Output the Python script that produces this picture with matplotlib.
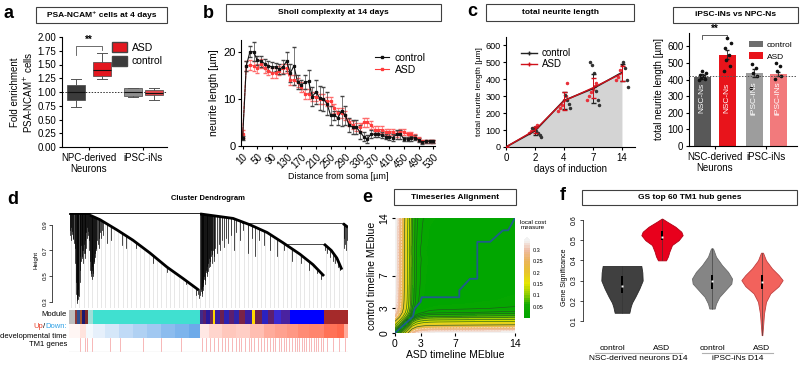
import numpy as np
import matplotlib
matplotlib.use("Agg")
import matplotlib.pyplot as plt
from matplotlib.patches import Rectangle, Patch
from matplotlib.lines import Line2D
from matplotlib.colors import LinearSegmentedColormap

plt.rcParams["font.family"] = ["Liberation Sans", "DejaVu Sans"]
plt.rcParams["axes.linewidth"] = 0.8
plt.rcParams["xtick.major.width"] = 0.8
plt.rcParams["ytick.major.width"] = 0.8
plt.rcParams["xtick.major.size"] = 2.5
plt.rcParams["ytick.major.size"] = 2.5
plt.rcParams["xtick.major.pad"] = 1.5
plt.rcParams["ytick.major.pad"] = 1.5

# ---------------- data ----------------
# a: PSA-NCAM+ fold enrichment (box statistics)
a_groups = ["NPC-derived\nNeurons", "iPSC-iNs"]
a_whislo = [0.73, 1.24, 0.91, 0.85]
a_q1 = [0.86, 1.29, 0.93, 0.94]
a_med = [1.00, 1.40, 1.00, 0.99]
a_q3 = [1.13, 1.55, 1.07, 1.04]
a_whishi = [1.23, 1.71, 1.08, 1.08]
a_colors = ["#3b3b3b", "#e3171f", "#8e8e8e", "#e2474b"]

# b: Sholl analysis
sholl_dist = list(range(10, 531, 10))
sholl_ctrl = [1.7, 17.0, 20.0, 20.0, 18.2, 18.0, 17.5, 17.0, 16.8, 16.8,
              16.3, 16.8, 18.0, 15.5, 17.0, 13.5, 13.0, 13.5, 13.7, 10.5,
              11.5, 10.2, 10.0, 9.0, 6.5, 6.5, 6.0, 7.5, 6.5, 4.5,
              4.0, 4.0, 3.0, 2.0, 1.5, 2.5, 2.5, 2.5, 2.3, 2.0,
              2.0, 1.8, 2.5, 2.5, 1.5, 1.5, 1.6, 1.8, 1.3, 0.8,
              1.0, 1.0, 1.0]
sholl_ctrl_err = [0.5, 1.0, 1.2, 2.0, 1.0, 1.2, 1.0, 1.0, 1.0, 0.8,
                  1.0, 1.5, 2.0, 2.0, 4.0, 1.5, 1.0, 1.5, 2.5, 2.0,
                  2.5, 2.5, 2.5, 2.5, 2.0, 1.0, 1.5, 3.2, 2.0, 1.5,
                  1.5, 1.5, 1.5, 1.0, 0.8, 0.8, 0.6, 0.6, 0.6, 0.6,
                  0.8, 0.8, 1.0, 1.0, 0.5, 0.5, 0.5, 0.5, 0.4, 0.3,
                  0.3, 0.3, 0.3]
sholl_asd = [2.5, 17.0, 17.2, 17.0, 16.5, 17.5, 16.5, 16.0, 15.5, 15.5,
             16.0, 16.5, 16.5, 14.0, 14.0, 13.5, 12.5, 11.0, 11.0, 10.5,
             10.5, 10.0, 10.0, 9.5, 9.5, 8.0, 7.0, 7.0, 6.5, 5.0,
             4.5, 4.0, 4.0, 5.0, 5.0, 4.5, 3.5, 3.5, 3.5, 3.0,
             3.0, 3.0, 2.5, 3.0, 3.0, 2.5, 2.5, 2.0, 1.5, 1.0,
             1.0, 1.0, 1.0]
sholl_asd_err = [0.8, 1.0, 1.0, 1.0, 1.0, 1.0, 1.0, 1.0, 1.0, 1.0,
                 1.0, 1.0, 1.0, 1.0, 1.0, 1.0, 1.0, 1.0, 1.0, 1.0,
                 1.0, 1.0, 1.0, 1.0, 1.0, 1.0, 1.0, 1.0, 1.0, 0.8,
                 0.8, 0.8, 0.8, 0.9, 0.9, 0.8, 0.7, 0.7, 0.7, 0.6,
                 0.6, 0.6, 0.6, 0.6, 0.6, 0.5, 0.5, 0.5, 0.4, 0.3,
                 0.3, 0.3, 0.3]

# c (left): total neurite length over time
c_days = ["0", "2", "4", "7", "14"]
c_ctrl_mean = [0, 95, 275, 345, 440]
c_ctrl_sd = [0, 25, 50, 85, 50]
c_asd_mean = [0, 100, 272, 350, 435]
c_asd_sd = [0, 20, 55, 60, 45]
c_ctrl_pts = [[], [60, 70, 85, 95, 110, 115], [230, 255, 280, 305],
              [250, 280, 330, 435, 485, 505], [355, 395, 465, 505]]
c_asd_pts = [[], [85, 95, 105, 120, 128], [215, 230, 250, 275, 300, 378],
             [280, 300, 325, 345, 360, 380], [395, 415, 455, 485]]

# c (right): iPSC-iNs vs NPC-Ns
cr_groups = ["NSC-derived\nNeurons", "iPSC-iNs"]
cr_inbar = ["NSC-Ns", "NSC-Ns", "iPSC-iNs", "iPSC-iNs"]
cr_mean = [418, 550, 440, 433]
cr_err = [14, 28, 25, 14]
cr_pts = [[400, 405, 412, 420, 430, 440, 450],
          [450, 480, 520, 550, 590, 620, 650],
          [352, 420, 441, 471, 491],
          [401, 421, 451, 481, 500]]
cr_colors = ["#585858", "#e8141b", "#9d9d9d", "#f27a7c"]

# d: WGCNA cluster dendrogram (leaf units 0..1000)
d_c1_u = [75, 111, 172, 229, 290, 351, 409, 465]
d_c1_h = [0.975, 0.94, 0.86, 0.78, 0.68, 0.57, 0.48, 0.39]
d_c2_u = [470, 588, 649, 710, 767, 828, 874, 914]
d_c2_h = [0.985, 0.95, 0.90, 0.84, 0.76, 0.67, 0.59, 0.50]
d_c3_u = [914, 940, 960, 978]
d_c3_h = [0.75, 0.70, 0.64, 0.55]
d_c4_u = [982, 1000]
d_c4_h = [0.91, 0.88]
d_spikes = [(2, 0.86), (4, 0.82), (6, 0.88), (8, 0.78), (10, 0.83), (12, 0.85),
            (14, 0.79), (16, 0.80), (18, 0.76), (20, 0.72), (22, 0.60), (24, 0.45),
            (25, 0.36), (27, 0.29), (28, 0.33), (30, 0.31), (31, 0.35), (33, 0.40),
            (34, 0.32), (36, 0.34), (38, 0.45), (39, 0.55), (41, 0.66), (42, 0.62),
            (44, 0.74), (45, 0.70), (47, 0.64), (48, 0.66), (50, 0.70), (51, 0.60),
            (53, 0.68), (54, 0.75), (56, 0.64), (57, 0.68), (59, 0.78), (60, 0.72),
            (62, 0.84), (63, 0.80), (65, 0.88), (67, 0.85), (69, 0.82), (71, 0.78),
            (73, 0.70), (75, 0.62), (76, 0.55), (78, 0.50), (80, 0.52), (81, 0.48),
            (83, 0.58), (84, 0.55), (86, 0.50), (87, 0.52), (89, 0.62), (90, 0.60),
            (92, 0.68), (94, 0.65), (96, 0.72), (98, 0.70), (101, 0.78), (103, 0.75),
            (106, 0.80), (108, 0.72), (111, 0.84), (114, 0.80), (118, 0.86),
            (122, 0.82), (135, 0.76), (150, 0.78), (190, 0.74), (205, 0.72),
            (240, 0.72), (300, 0.60), (350, 0.53), (420, 0.44), (455, 0.35),
            (462, 0.36), (467, 0.33),
            (470, 0.35), (472, 0.38), (473, 0.40), (475, 0.34), (476, 0.37),
            (478, 0.41), (479, 0.45), (481, 0.39), (482, 0.42), (484, 0.48),
            (485, 0.50), (487, 0.44), (488, 0.47), (490, 0.53), (491, 0.55),
            (493, 0.50), (494, 0.52), (496, 0.58), (497, 0.60), (499, 0.54),
            (500, 0.57), (502, 0.64), (504, 0.62), (506, 0.58), (508, 0.66),
            (510, 0.70), (512, 0.60), (514, 0.67), (516, 0.70), (518, 0.62),
            (520, 0.66), (525, 0.72), (530, 0.68), (536, 0.75), (542, 0.70),
            (548, 0.78), (555, 0.73), (562, 0.80), (570, 0.76), (580, 0.82),
            (590, 0.70), (600, 0.84), (612, 0.78), (625, 0.86), (640, 0.68),
            (655, 0.80), (668, 0.66), (680, 0.78), (700, 0.74), (720, 0.70),
            (745, 0.66), (770, 0.70), (800, 0.62), (830, 0.60), (860, 0.55),
            (890, 0.52), (905, 0.48),
            (918, 0.70), (925, 0.68), (935, 0.65), (945, 0.62), (955, 0.60),
            (965, 0.57), (972, 0.55),
            (984, 0.80), (987, 0.72), (990, 0.75), (993, 0.70), (996, 0.78), (999, 0.82)]
d_modules = [(0, 21, "#bebebe"), (21, 29, "#8b3a3a"), (29, 39, "#2f4f8f"),
             (39, 47, "#a0522d"), (47, 57, "#191970"), (57, 68, "#7a2a2a"),
             (68, 86, "#9fded8"), (86, 469, "#40e0d0"),
             (469, 480, "#3d2b8c"), (480, 492, "#5a1f6b"), (492, 505, "#2a1a9a"),
             (505, 516, "#6b2a5a"), (516, 523, "#ffd700"), (523, 540, "#3a1fa0"),
             (540, 556, "#6a2050"), (556, 575, "#2b22b0"), (575, 590, "#5c1f6e"),
             (590, 610, "#3024a8"), (610, 630, "#7a2347"), (630, 656, "#3a1fa0"),
             (656, 667, "#ffd700"), (667, 690, "#6a2050"), (690, 712, "#2b22c0"),
             (712, 735, "#5c1f6e"), (735, 760, "#3a2ad0"), (760, 792, "#4a22a0"),
             (792, 914, "#0000ff"), (914, 1000, "#a52a2a")]
d_updown = [(0, 21, 0.05), (21, 40, 0.05), (40, 60, 0.15), (60, 86, -0.05),
            (86, 130, -0.12), (130, 180, -0.2), (180, 230, -0.3), (230, 280, -0.38),
            (280, 330, -0.45), (330, 380, -0.55), (380, 430, -0.62), (430, 469, -0.7),
            (469, 500, 0.12), (500, 550, 0.22), (550, 600, 0.30), (600, 650, 0.26),
            (650, 700, 0.35), (700, 740, 0.45), (740, 780, 0.50), (780, 820, 0.55),
            (820, 860, 0.62), (860, 914, 0.65), (914, 960, 0.75), (960, 985, 0.80),
            (985, 1000, 0.45)]
d_tm1 = [39, 57, 66, 82, 147, 183, 265, 330, 402,
         478, 490, 505, 521, 534, 548, 560, 571, 585, 597, 610, 618, 631, 645,
         652, 664, 676, 689, 700, 708, 719, 731, 740, 752, 760, 771, 779, 790,
         801, 809, 818, 826, 835, 844, 851, 860, 868, 877, 885, 893, 902, 910,
         925, 948, 968, 990]

# e: timeseries alignment (MEblue eigengene over days)
e_days = [0, 0.5, 1, 1.5, 2, 2.5, 3, 3.5, 4, 5, 6, 7, 8, 9, 10, 11, 12, 13, 14]
e_asd_me = [0.0, 0.06, 0.13, 0.20, 0.275, 0.31, 0.325, 0.333, 0.338, 0.341,
            0.342, 0.343, 0.344, 0.345, 0.346, 0.347, 0.348, 0.349, 0.35]
e_ctrl_me = [0.0, 0.075, 0.15, 0.21, 0.27, 0.31, 0.327, 0.334, 0.338, 0.341,
             0.343, 0.344, 0.345, 0.346, 0.344, 0.346, 0.347, 0.348, 0.35]
e_path_asd = [0, 2.1, 2.3, 3.0, 3.1, 7.5, 7.5, 8.75, 9.6, 9.6, 11.1, 12.6, 13.2, 14]
e_path_ctrl = [0, 2.0, 3.0, 3.8, 4.35, 4.35, 5.2, 6.6, 6.6, 11.1, 11.1, 12.5, 12.5, 14]

# f: gene significance violins (y level, half width)
f_labels = ["control", "ASD", "control", "ASD"]
f_groups = ["NSC-derived neurons D14", "iPSC-iNs D14"]
f_y = [[0.372, 0.34, 0.30, 0.26, 0.22, 0.19, 0.17, 0.14],
       [0.607, 0.592, 0.567, 0.542, 0.525, 0.50, 0.476, 0.443, 0.42, 0.40],
       [0.459, 0.418, 0.376, 0.343, 0.31, 0.285, 0.252, 0.219, 0.186, 0.161],
       [0.438, 0.40, 0.36, 0.327, 0.302, 0.272, 0.236, 0.194, 0.136, 0.07, 0.029]]
f_w = [[58, 61, 62, 52, 40, 30, 26, 22],
       [1, 15, 40, 58, 62, 50, 30, 22, 18, 12],
       [3, 12, 30, 48, 60, 58, 40, 22, 12, 8],
       [3, 12, 30, 50, 62, 50, 25, 12, 6, 3, 1]]
f_q1 = [0.24, 0.50, 0.26, 0.26]
f_med = [0.275, 0.518, 0.298, 0.295]
f_q3 = [0.32, 0.545, 0.325, 0.325]
f_colors = ["#404040", "#e8001c", "#858585", "#f2625c"]
f_edges = ["#2a2a2a", "#b00015", "#6a6a6a", "#c04040"]

# ---------------- layout helpers ----------------
W, H = 800, 367
fig = plt.figure(figsize=(W / 100, H / 100), dpi=100)


def box(l, t, r, b):
    return [l / W, 1 - b / H, (r - l) / W, (b - t) / H]


def title_box(l, t, r, b, text, size=6.0):
    fig.add_artist(Rectangle((l / W, 1 - b / H), (r - l) / W, (b - t) / H,
                             transform=fig.transFigure, fill=False, lw=0.8, ec="#404040"))
    fig.text((l + r) / 2 / W, 1 - (t + b) / 2 / H, text, ha="center", va="center",
             fontsize=size, weight="bold")


def letter(x, y, s):
    fig.text(x / W, 1 - y / H, s, fontsize=13, weight="bold", va="center")


def clean(ax):
    ax.spines["top"].set_visible(False)
    ax.spines["right"].set_visible(False)


# ---------------- panel a ----------------
letter(3, 13, "a")
title_box(36, 7, 167, 23, "PSA-NCAM⁺ cells at 4 days")
ax = fig.add_axes(box(62, 37, 167, 147))
clean(ax)
a_pos = [0.54, 1.54, 2.73, 3.54]
stats = [dict(whislo=lo, q1=q1, med=m, q3=q3, whishi=hi, fliers=[])
         for lo, q1, m, q3, hi in zip(a_whislo, a_q1, a_med, a_q3, a_whishi)]
bp = ax.bxp(stats, positions=a_pos, widths=0.72, patch_artist=True, showfliers=False,
            medianprops=dict(color="#111111", lw=0.8),
            whiskerprops=dict(color="#555555", lw=0.7),
            capprops=dict(color="#555555", lw=0.7), boxprops=dict(lw=0.5))
for patch, c in zip(bp["boxes"], a_colors):
    patch.set_facecolor(c)
    patch.set_edgecolor("#444444")
ax.axhline(1.0, color="#333333", ls=(0, (1.5, 1.5)), lw=0.7, zorder=0)
ax.set_xlim(0, 4.04)
ax.set_ylim(0, 2.0)
yt = [0, 0.25, 0.5, 0.75, 1.0, 1.25, 1.5, 1.75, 2.0]
ax.set_yticks(yt)
ax.set_yticklabels([f"{v:.2f}" for v in yt], fontsize=7)
ax.set_xticks([1.04, 3.13])
ax.set_xticklabels(a_groups, fontsize=7)
ax.set_ylabel("Fold enrichment\nPSA-NCAM$^{+}$ cells", fontsize=7, labelpad=2)
ax.plot([a_pos[0], a_pos[0], a_pos[1], a_pos[1]], [1.67, 1.84, 1.84, 1.76],
        color="#555555", lw=0.6)
ax.text((a_pos[0] + a_pos[1]) / 2, 1.86, "**", ha="center", va="bottom", fontsize=7,
        weight="bold")
ax.legend([Patch(fc=a_colors[1], ec="#444"), Patch(fc=a_colors[0], ec="#444")],
          ["ASD", "control"], loc="upper right", bbox_to_anchor=(1.05, 1.04),
          frameon=False, fontsize=7.5, handlelength=1.4, handleheight=1.1,
          labelspacing=0.3, handletextpad=0.5)

# ---------------- panel b ----------------
letter(203, 13, "b")
title_box(226, 4, 441, 21, "Sholl complexity at 14 days")
ax = fig.add_axes(box(241, 40, 435, 146))
clean(ax)
ax.errorbar(sholl_dist, sholl_asd, yerr=sholl_asd_err, color="#ff3b3b", lw=0.8,
            marker="s", ms=1.4, capsize=1.2, elinewidth=0.5, ecolor="#ff6b6b",
            ls=(0, (3, 0.8)))
ax.errorbar(sholl_dist, sholl_ctrl, yerr=sholl_ctrl_err, color="#111111", lw=0.8,
            marker="s", ms=1.4, capsize=1.2, elinewidth=0.5, ecolor="#444444")
ax.set_xlim(5.6, 534.6)
ax.set_ylim(0, 22.5)
ax.set_yticks([0, 10, 20])
ax.tick_params(axis="y", labelsize=8)
ax.set_xticks(sholl_dist[::4])
ax.set_xticklabels([str(v) for v in sholl_dist[::4]], rotation=45, fontsize=7,
                   ha="right", rotation_mode="anchor")
ax.set_ylabel("neurite length [µm]", fontsize=7.5, labelpad=3)
ax.set_xlabel("Distance from soma [µm]", fontsize=6.5, labelpad=1)
ax.legend([Line2D([], [], color="#111111", marker="s", ms=1.6, lw=0.8),
           Line2D([], [], color="#ff3b3b", marker="s", ms=1.6, lw=0.8)],
          ["control", "ASD"], loc="upper right", bbox_to_anchor=(1.0, 0.97),
          frameon=False, fontsize=7.5, handlelength=1.4, labelspacing=0.2,
          handletextpad=0.5)

# ---------------- panel c left ----------------
letter(467, 12, "c")
title_box(486, 4, 634, 21, "total neurite length")
ax = fig.add_axes(box(506, 37, 635, 147))
clean(ax)
xs = np.arange(len(c_days))
ax.fill_between(xs, 0, c_ctrl_mean, color="#d4d4d4", lw=0, zorder=0)
jit = [-0.16, -0.09, -0.03, 0.05, 0.11, 0.17]
for i in range(len(c_days)):
    for k, v in enumerate(c_asd_pts[i]):
        ax.plot(xs[i] + jit[k % len(jit)] - 0.05, v, "o", ms=1.5, color="#e8303a", zorder=3)
    for k, v in enumerate(c_ctrl_pts[i]):
        ax.plot(xs[i] + jit[::-1][k % len(jit)] + 0.05, v, "o", ms=1.5, color="#333333",
                zorder=3)
ax.errorbar(xs, c_ctrl_mean, yerr=c_ctrl_sd, color="#222222", lw=1.2, capsize=1.8,
            elinewidth=0.7, zorder=4)
ax.errorbar(xs, c_asd_mean, yerr=c_asd_sd, color="#d0101a", lw=1.0, capsize=1.8,
            elinewidth=0.7, zorder=5)
ax.set_xlim(0, 4.45)
ax.set_ylim(0, 650)
ax.set_xticks(xs)
ax.set_xticklabels(c_days, fontsize=7)
ax.set_yticks([0, 100, 200, 300, 400, 500, 600])
ax.tick_params(axis="y", labelsize=6.5)
ax.set_ylabel("total neurite length [µm]", fontsize=6, labelpad=2)
ax.set_xlabel("days of induction", fontsize=7, labelpad=1)
ax.legend([Line2D([], [], color="#222222", marker="+", ms=3, lw=1),
           Line2D([], [], color="#d0101a", marker="+", ms=3, lw=1)],
          ["control", "ASD"], loc="upper left", bbox_to_anchor=(0.05, 0.98),
          frameon=False, fontsize=7, handlelength=1.6, labelspacing=0.1,
          handletextpad=0.5)

# ---------------- panel c right ----------------
title_box(673, 7, 798, 23, "iPSC-iNs vs NPC-Ns")
ax = fig.add_axes(box(689, 33, 797, 146))
clean(ax)
cr_pos = [0.52, 1.52, 2.6, 3.56]
ax.bar(cr_pos, cr_mean, width=0.68, color=cr_colors, zorder=1)
ax.errorbar(cr_pos, cr_mean, yerr=cr_err, fmt="none", ecolor="#222222", elinewidth=0.6,
            capsize=1.6, zorder=2)
pj = [-0.14, 0.12, -0.05, 0.06, -0.1, 0.15, 0.0]
for p, pts in zip(cr_pos, cr_pts):
    for k, v in enumerate(pts):
        ax.plot(p + pj[k % len(pj)], v, "o", ms=1.6, color="#111111", zorder=3)
for p, s in zip(cr_pos, cr_inbar):
    ax.text(p, 290, s, rotation=90, ha="center", va="center", color="white", fontsize=6)
ax.axhline(cr_mean[0] + 5, color="#555555", ls=(0, (1.5, 1.5)), lw=0.7, zorder=4)
ax.plot([cr_pos[0], cr_pos[0], cr_pos[1], cr_pos[1]], [645, 668, 668, 660],
        color="#444444", lw=0.6, clip_on=False)
ax.text((cr_pos[0] + cr_pos[1]) / 2, 672, "**", ha="center", va="bottom", fontsize=7,
        weight="bold")
ax.set_xlim(0, 4.32)
ax.set_ylim(0, 680)
ax.set_yticks([0, 100, 200, 300, 400, 500, 600])
ax.tick_params(axis="y", labelsize=7)
ax.set_xticks([(cr_pos[0] + cr_pos[1]) / 2, (cr_pos[2] + cr_pos[3]) / 2])
ax.set_xticklabels(cr_groups, fontsize=7)
ax.set_ylabel("total neurite length [µm]", fontsize=7, labelpad=2)
ax.legend([Patch(fc="#6e6e6e"), Patch(fc=cr_colors[1])], ["control", "ASD"],
          loc="upper right", bbox_to_anchor=(1.03, 1.0), frameon=False, fontsize=6,
          handlelength=1.6, handleheight=0.9, labelspacing=0.4, handletextpad=0.5)

# ---------------- panel d ----------------
letter(7, 199, "d")
fig.text(208 / W, 1 - 198 / H, "Cluster Dendrogram", ha="center", va="center",
         fontsize=5.5, weight="bold")


def envelope(u):
    if u < 75:
        return 0.985
    if u <= 469:
        return np.interp(u, d_c1_u, d_c1_h)
    if u <= 914:
        return np.interp(u, d_c2_u, d_c2_h)
    if u < 980:
        return np.interp(u, d_c3_u, d_c3_h)
    return np.interp(u, d_c4_u, d_c4_h)


ax = fig.add_axes(box(69, 212, 348, 308))
for s in ["top", "right", "bottom"]:
    ax.spines[s].set_visible(False)
ax.spines["left"].set_position(("outward", 12))
ax.spines["left"].set_bounds(0.3, 0.9)
ax.spines["left"].set_linewidth(0.5)
ax.set_xlim(0, 1000)
ax.set_ylim(0.25, 1.0)
ax.set_xticks([])
ax.set_yticks([0.3, 0.5, 0.7, 0.9])
ax.set_yticklabels(["0.3", "0.5", "0.7", "0.9"], rotation=90, va="center", fontsize=4.5)
ax.tick_params(axis="y", width=0.5, length=2)
ax.set_ylabel("Height", fontsize=4.5, labelpad=3)
for u in np.arange(6, 1000, 15.5):
    ax.plot([u, u], [0.25, envelope(u)], color="#d4d4d4", lw=0.4, zorder=1)
for u, hb in d_spikes:
    ax.plot([u, u], [hb, envelope(u) + 0.005], color="black", lw=0.5, zorder=2)
ax.plot([3, 470], [0.99, 0.99], color="black", lw=0.6)
ax.plot([620, 982, 982], [0.915, 0.915, 0.91], color="black", lw=0.5)
ax.plot([780, 914, 914], [0.75, 0.75, 0.745], color="black", lw=0.5)
for cu, ch in [(d_c1_u, d_c1_h), (d_c2_u, d_c2_h), (d_c3_u, d_c3_h), (d_c4_u, d_c4_h)]:
    ax.plot(cu, ch, color="black", lw=2.0, solid_capstyle="butt", zorder=3)
ax.plot([0, 75], [0.985, 0.985], color="black", lw=1.2)

# colour bars below the dendrogram
bx = fig.add_axes(box(69, 310, 348, 352))
bx.set_xlim(0, 1000)
bx.set_ylim(0, 3)
bx.axis("off")
for u0, u1, c in d_modules:
    bx.add_patch(Rectangle((u0, 2.02), u1 - u0, 0.98, fc=c, ec="none"))
ud_cmap = LinearSegmentedColormap.from_list("ud", ["#2f86e0", "#ffffff", "#ff4521"])
for u0, u1, v in d_updown:
    bx.add_patch(Rectangle((u0, 1.02), u1 - u0, 0.98, fc=ud_cmap((v + 1) / 2), ec="none"))
for u in d_tm1:
    bx.plot([u, u], [0.05, 0.98], color="#f07070", lw=0.5, alpha=0.7)
bx.plot([0, 1000], [0.02, 0.02], color="#a0a0a0", lw=0.8)

lab_fs = 5.5
fig.text(67 / W, 1 - 315 / H, "Module", ha="right", va="center", fontsize=lab_fs)
renderer = fig.canvas.get_renderer()
t1 = fig.text(67 / W, 1 - 327 / H, "Down:", ha="right", va="center", fontsize=lab_fs,
              color="#31a2e6")
x0 = t1.get_window_extent(renderer).x0
t2 = fig.text(x0 / W, 1 - 327 / H, "/", ha="right", va="center", fontsize=lab_fs)
x0 = t2.get_window_extent(renderer).x0
fig.text(x0 / W, 1 - 327 / H, "Up", ha="right", va="center", fontsize=lab_fs,
         color="#e8402a")
fig.text(67 / W, 1 - 336 / H, "developmental time", ha="right", va="center",
         fontsize=lab_fs)
fig.text(67 / W, 1 - 345 / H, "TM1 genes", ha="right", va="center", fontsize=lab_fs)

# ---------------- panel e ----------------
letter(362, 198, "e")
title_box(394, 189, 516, 205, "Timeseries Alignment")
ax = fig.add_axes(box(395, 218, 515, 333))
terrain = LinearSegmentedColormap.from_list(
    "terrain_r", [(0.0, "#00a600"), (0.17, "#12aa00"), (0.3, "#8ccb00"),
                  (0.45, "#e6e600"), (0.6, "#e8c22e"), (0.74, "#ebb45a"),
                  (0.88, "#eebba3"), (1.0, "#f2f2f2")])
cost = np.abs(np.subtract.outer(np.array(e_ctrl_me), np.array(e_asd_me)))
cf = ax.contourf(e_days, e_days, cost, levels=np.linspace(0, 0.34, 35), cmap=terrain,
                 extend="max")
ax.contour(e_days, e_days, cost,
           levels=[0.02, 0.035, 0.05, 0.07, 0.09, 0.12, 0.15, 0.2],
           colors="#1e5a1e", linewidths=0.45)
ax.contour(e_days, e_days, cost, levels=[0.25, 0.3], colors="#f8eee6",
           linewidths=0.4, linestyles="--")
ax.plot(e_path_asd, e_path_ctrl, color="#1f5c8c", lw=1.3)
for s in ax.spines.values():
    s.set_visible(False)
ax.set_xlim(0, 14)
ax.set_ylim(0, 14)
ax.set_xticks([0, 3, 7, 14])
ax.set_yticks([0, 3, 7, 14])
ax.tick_params(labelsize=7.5, length=2.5)
ax.set_yticklabels(["0", "3", "7", "14"], rotation=90, va="center")
ax.set_xlabel("ASD timeline MEblue", fontsize=7.5, labelpad=1)
ax.set_ylabel("control timeline MEblue", fontsize=7.5, labelpad=2)
cax = fig.add_axes(box(524, 237, 530, 318))
cb = fig.colorbar(cf, cax=cax, ticks=[0.05, 0.1, 0.15, 0.2, 0.25, 0.3])
cb.outline.set_visible(False)
cb.ax.tick_params(labelsize=4, length=0, pad=2)
cb.ax.set_yticklabels(["0.05", "0.1", "0.15", "0.2", "0.25", "0.3"])
fig.text(533 / W, 1 - 225 / H, "local cost\nmeasure", ha="center", va="center",
         fontsize=4.5, linespacing=1.1)

# ---------------- panel f ----------------
letter(560, 196, "f")
title_box(582, 190, 797, 205, "GS top 60 TM1 hub genes")
ax = fig.add_axes(box(583, 216, 793, 339))
for s in ["top", "right", "bottom"]:
    ax.spines[s].set_visible(False)
ax.spines["left"].set_bounds(0.1, 0.6)
ax.spines["left"].set_linewidth(0.5)
f_pos = [0.8, 1.6, 2.6, 3.6]
for i, p in enumerate(f_pos):
    ys = np.array(f_y[i])
    hw = np.array(f_w[i]) / 150.0
    ax.fill_betweenx(ys, p - hw, p + hw, facecolor=f_colors[i], edgecolor=f_edges[i],
                     lw=0.6)
    ax.plot([p, p], [ys.min(), ys.max()], color="#333333", lw=0.4)
    ax.add_patch(Rectangle((p - 0.028, f_q1[i]), 0.056, f_q3[i] - f_q1[i], fc="black",
                           ec="none", zorder=3))
    ax.plot(p, f_med[i], "s", ms=1.6, color="white", mec="none", zorder=4)
ax.set_xlim(0.02, 4.22)
ax.set_ylim(0.01, 0.62)
ax.set_xticks([])
ax.set_yticks([0.1, 0.2, 0.3, 0.4, 0.5, 0.6])
ax.set_yticklabels(["0.1", "0.2", "0.3", "0.4", "0.5", "0.6"], rotation=90, va="center",
                   fontsize=5)
ax.tick_params(axis="y", width=0.5, length=2)
ax.set_ylabel("Gene Significance", fontsize=5, labelpad=2)
for p, lab in zip([0.6, 1.6, 2.6, 3.6], f_labels):
    fig.text((583 + (p - 0.02) * 50) / W, 1 - 348 / H, lab, ha="center", va="center",
             fontsize=6)
for (x0, x1), g in zip([(595, 682), (702, 773)], f_groups):
    fig.add_artist(Line2D([x0 / W, x1 / W], [1 - 353 / H, 1 - 353 / H],
                          color="#b0b0b0", lw=0.8))
    fig.text((x0 + x1) / 2 / W, 1 - 359 / H, g, ha="center", va="center", fontsize=6)

fig.savefig("out.png", dpi=100)
